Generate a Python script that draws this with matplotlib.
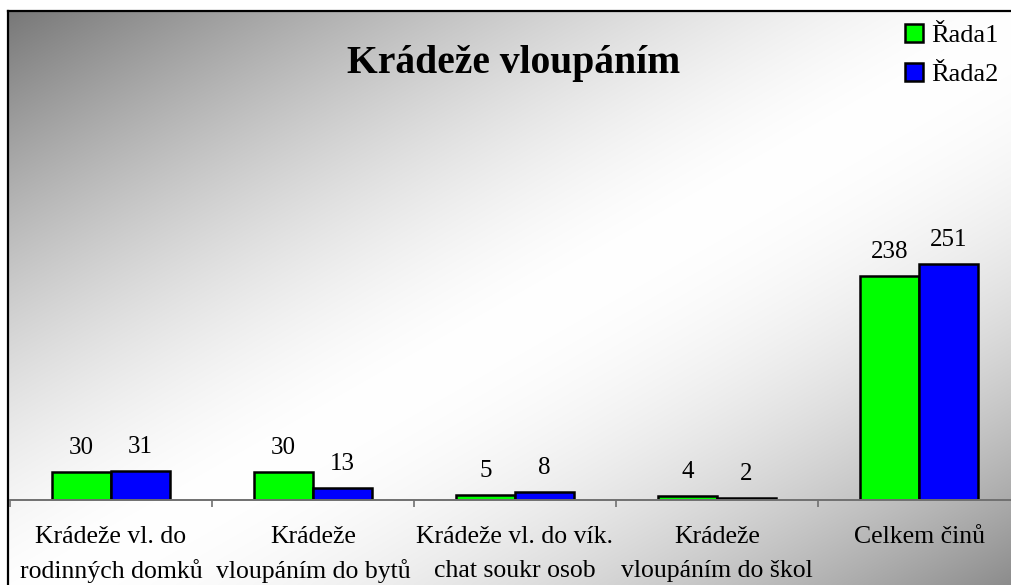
import numpy as np
import matplotlib
matplotlib.use('Agg')
import matplotlib.pyplot as plt
from matplotlib.patches import Patch

kategorie = ['Krádeže vl. do\nrodinných domků',
             'Krádeže\nvloupáním do bytů',
             'Krádeže vl. do vík.\nchat soukr osob',
             'Krádeže\nvloupáním do škol',
             'Celkem činů']
rada1 = [30, 30, 5, 4, 238]
rada2 = [31, 13, 8, 2, 251]
serie = ['Řada1', 'Řada2']
barvy = ['#00FF00', '#0000FF']

plt.rcParams['font.family'] = ['Liberation Serif', 'DejaVu Serif']

W, H = 1012, 585
fig = plt.figure(figsize=(W / 100, H / 100), dpi=100)
fig.patch.set_facecolor('white')

# pozadí s přechodem (tmavé vlevo nahoře, bílý pruh, tmavší vpravo dole)
x0, y0 = 8, 11
bg = fig.add_axes([x0 / W, 0, 1 - x0 / W, 1 - y0 / H], zorder=0)
u = np.linspace(0, 1, 400)
v = np.linspace(0, 1, 300)
U, V = np.meshgrid(u, v)
t = (U + V) / 2
t0 = 0.52
g = np.where(t < t0,
             1 - 0.53 * (np.clip(t0 - t, 0, None) / t0) ** 1.5,
             1 - 0.45 * (np.clip(t - t0, 0, None) / (1 - t0)) ** 1.8)
bg.imshow(np.dstack([g, g, g]), aspect='auto', extent=[0, 1, 1, 0], interpolation='bilinear')
bg.set_xticks([])
bg.set_yticks([])
for s in ['right', 'bottom']:
    bg.spines[s].set_visible(False)
for s in ['top', 'left']:
    bg.spines[s].set_linewidth(1.6)
    bg.spines[s].set_color('black')

# graf
base = 500
top = y0
ax = fig.add_axes([10 / W, 1 - base / H, 1010 / W, (base - top) / H], zorder=1)
ax.patch.set_alpha(0)
x = np.arange(len(kategorie))
w = 0.29
b1 = ax.bar(x - w / 2, rada1, w, color=barvy[0], edgecolor='black', linewidth=1.8)
b2 = ax.bar(x + w / 2, rada2, w, color=barvy[1], edgecolor='black', linewidth=1.8)
ax.set_xlim(-0.5, len(kategorie) - 0.5)
ax.set_ylim(0, (base - top) / 0.94)

for bars, vals in [(b1, rada1), (b2, rada2)]:
    for r, val in zip(bars, vals):
        ax.annotate(str(val), (r.get_x() + r.get_width() / 2, val),
                    xytext=(0, 18), textcoords='offset pixels',
                    ha='center', va='baseline', fontsize=18)

for i, lab in enumerate(kategorie):
    for k, line in enumerate(lab.split('\n')):
        ax.annotate(line, (i, 0), xycoords=('data', 'axes fraction'),
                    xytext=(0, -37 - 34 * k), textcoords='offset pixels',
                    ha='center', va='center', fontsize=18.5, annotation_clip=False)

for s in ['top', 'right', 'left']:
    ax.spines[s].set_visible(False)
ax.spines['bottom'].set_color('#707070')
ax.spines['bottom'].set_linewidth(1.4)
ax.set_yticks([])
ax.set_xticks(np.arange(len(kategorie) + 1) - 0.5)
ax.set_xticklabels([])
ax.tick_params(axis='x', length=5, width=1.2, color='#707070', direction='out')

fig.text(514 / W, 1 - 73 / H, 'Krádeže vloupáním', ha='center', va='baseline',
         fontsize=28.5, fontweight='bold')

handles = [Patch(facecolor=c, edgecolor='black', linewidth=1.8) for c in barvy]
ax.legend(handles, serie, loc='upper left', bbox_to_anchor=(905 / W, 1 - 24 / H),
          bbox_transform=fig.transFigure, frameon=False, fontsize=19,
          handlelength=0.68, handleheight=0.68, handletextpad=0.3,
          labelspacing=0.6, borderpad=0, borderaxespad=0)

fig.savefig('out.png', dpi=100)
